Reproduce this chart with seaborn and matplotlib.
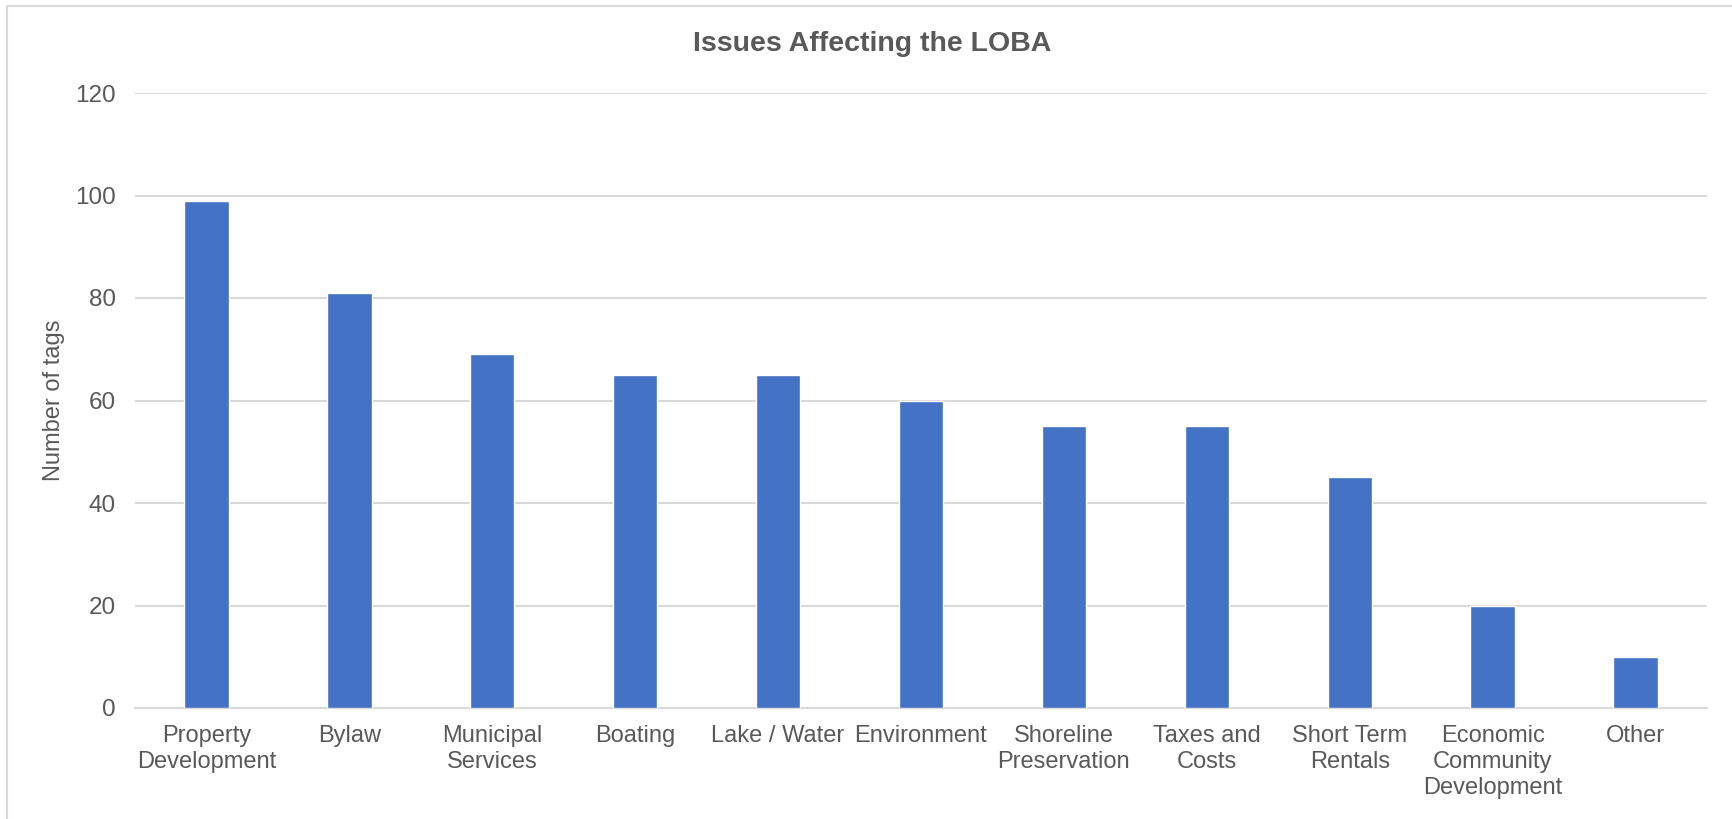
"""Bar chart of issue tags."""
import matplotlib
matplotlib.use('Agg')
import matplotlib.pyplot as plt
import seaborn as sns
from matplotlib.lines import Line2D

categories = ['Property\nDevelopment', 'Bylaw', 'Municipal\nServices', 'Boating',
              'Lake / Water', 'Environment', 'Shoreline\nPreservation',
              'Taxes and\nCosts', 'Short Term\nRentals',
              'Economic\nCommunity\nDevelopment', 'Other']
counts = [99, 81, 69, 65, 65, 60, 55, 55, 45, 20, 10]
yticks = [0, 20, 40, 60, 80, 100, 120]

sns.set_theme(style='white')
plt.rcParams['font.family'] = ['Liberation Sans', 'DejaVu Sans']

text_color = '#595959'
grid_color = '#d9d9d9'

fig = plt.figure(figsize=(17.32, 8.19), dpi=100)
ax = fig.add_axes([135 / 1732, 1 - 708 / 819, (1707 - 135) / 1732, (708 - 93) / 819])

sns.barplot(x=categories, y=counts, color='#4472C4', saturation=1, width=0.31, ax=ax, zorder=3)

ax.set_xlim(-0.5, len(categories) - 0.5)
ax.set_ylim(0, 120)
ax.set_yticks(yticks)
ax.yaxis.grid(True, color=grid_color, linewidth=1.5, zorder=0)
ax.set_axisbelow(True)
for side in ['top', 'right', 'left']:
    ax.spines[side].set_visible(False)
ax.spines['bottom'].set_color(grid_color)
ax.spines['bottom'].set_linewidth(1.5)
ax.tick_params(axis='x', length=0, pad=12, labelsize=17, labelcolor=text_color)
ax.tick_params(axis='y', length=0, pad=14, labelsize=17.5, labelcolor=text_color)
for lbl in ax.get_xticklabels():
    lbl.set_linespacing(1.25)
ax.set_xlabel('')
ax.set_ylabel('Number of tags', fontsize=17, color=text_color, labelpad=7)

# title is centred on the whole chart, not on the plot area
fig.suptitle('Issues Affecting the LOBA', x=872 / 1732, y=1 - 44 / 819, va='center',
             fontsize=20.5, fontweight='bold', color=text_color)

# chart frame: only the top and left edges fall inside the image
fig.lines.append(Line2D([7 / 1732, 7 / 1732], [0, 1 - 6 / 819],
                        transform=fig.transFigure, color=grid_color, linewidth=1.5))
fig.lines.append(Line2D([7 / 1732, 1], [1 - 6 / 819, 1 - 6 / 819],
                        transform=fig.transFigure, color=grid_color, linewidth=1.5))

plt.savefig('out.png', dpi=100)
